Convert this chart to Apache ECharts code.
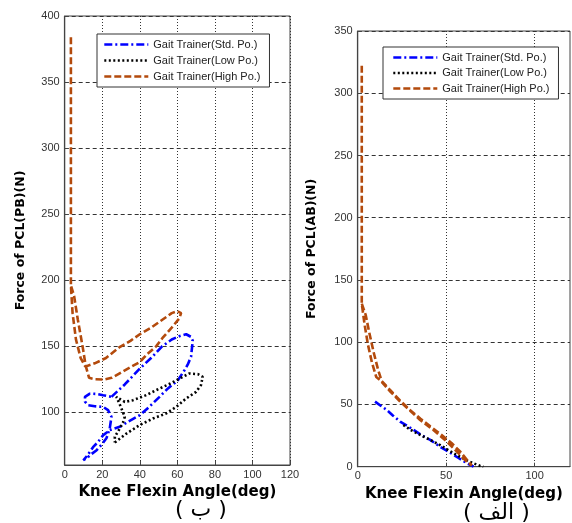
<!DOCTYPE html>
<html><head><meta charset="utf-8">
<script src="https://cdn.jsdelivr.net/npm/echarts@6/dist/echarts.min.js"></script>
<style>html,body{margin:0;padding:0;background:#fff}#c{width:572px;height:523px}</style>
</head><body><div id="c"></div>
<script>
// Series names
const seriesNames = ['Gait Trainer(Std. Po.)', 'Gait Trainer(Low Po.)', 'Gait Trainer(High Po.)'];
// Tick labels
const bXTicks = [0, 20, 40, 60, 80, 100, 120];
const bYTicks = [100, 150, 200, 250, 300, 350, 400];
const aXTicks = [0, 50, 100];
const aYTicks = [0, 50, 100, 150, 200, 250, 300, 350];
// Panel (ب) data: [knee angle, force]
const bStd = [[24.9,111.6],[32,121],[40,133],[46,141],[52,150],[57,155],[61,157.5],[64.7,159],[67.3,157],[68.2,154],[67.3,142],[65.5,136],[63.8,131.8],[60.3,124.2],[55,118],[50.5,111.6],[45,104],[40,97.7],[34,93],[29.3,88.9],[24,86.4],[20.5,82.6],[17.5,77],[15.2,73.7],[12,67],[9.9,63.6],[11.6,65],[14,68],[17,71.2],[20,76],[22.3,80.5],[24,87.7],[24.9,96.5],[23.1,101.5],[20.5,104],[16,104.5],[12.5,105.3],[10.8,108],[10.8,111.6],[13.4,114],[17,113.8],[20.5,112.8],[24.9,111.6]];
const bLow = [[26.7,77],[32.9,83.8],[39.9,90.2],[47,95.2],[54,99],[59.4,104],[64.7,110.4],[70,115.4],[72.6,120.5],[73.5,126.8],[70.9,128.8],[66.4,129.3],[61.2,125.5],[56,121.5],[50.5,117.9],[43.4,112.9],[36.4,109.1],[32,107.8],[27.5,111.6],[29,107],[30.2,102.8],[32,96.5],[31,92],[29.3,87.6],[26.7,81.3],[26.7,77]];
const bHigh = [[3.3,384],[3.3,300],[3.3,230],[3.3,196],[4.2,175],[6,155],[8.5,141],[11,134.5],[16,137],[22,141],[29,149],[35,154],[40,159],[46,164],[52,170],[57,175],[60,176.5],[62,175],[61,171],[57,164],[52,156],[48.8,150],[44,144],[40,138],[35,134],[30,130],[25,126],[21,124.7],[16,125],[13,126],[11.2,135],[9.5,150],[7,170],[5,188],[3.3,196]];
// Panel (الف) data
const aStd = [[9.8,52.3],[13,49],[16.4,45.6],[20,41],[24,36.2],[30,31],[36,25.5],[41,21.5],[46.6,16],[52,11.5],[57,7],[61.7,2.8],[65.5,0]];
const aLow = [[25.8,33.5],[30,29.5],[35.3,25.5],[41,21.5],[46.6,17.4],[51,13.5],[56,9.4],[61,5.5],[65.5,2.7],[69,0.8],[71,0]];
const aHigh = [[2.3,322],[2.3,131],[3.8,115],[5.8,98],[8,84],[10.5,72],[12.6,69.7],[18,61],[24,52.3],[30,44.5],[35.3,37.5],[42.8,29.5],[50.4,20.1],[54,15],[57.9,9.4],[62.6,2.7],[64.5,1],[62,5],[58,12],[53,19],[47,26],[41,32.5],[35.5,38.5],[30,45],[24,53],[18,62],[13.5,69],[11.5,78],[9,92],[6.5,108],[4.5,122],[2.3,131]];

const styles = [
  {color:'#0000ff', type:[8,3,2,3]},
  {color:'#000000', type:[2,2.5]},
  {color:'#b34a0c', type:[7,3]}
];
function mk(name, data, idx, si){
  return {type:'line', name:name, data:data, xAxisIndex:idx, yAxisIndex:idx,
    showSymbol:false, symbol:'none', smooth:false, animation:false, clip:true,
    lineStyle:{color:styles[si].color, type:styles[si].type, width:2.6},
    itemStyle:{color:styles[si].color}};
}
const axisLbl = {fontFamily:'Liberation Sans', fontSize:11, color:'#333'};
const nameStyle = {fontFamily:'DejaVu Sans', fontWeight:'bold', fontSize:15, color:'#000'};
const yNameStyle = {fontFamily:'DejaVu Sans', fontWeight:'bold', fontSize:12.5, color:'#000'};
function xAx(idx, max, ticks){
  return {type:'value', gridIndex:idx, min:0, max:max,
    name:'Knee Flexin Angle(deg)', nameLocation:'middle', nameGap:16, nameTextStyle:nameStyle,
    axisLine:{show:true, lineStyle:{color:'#444', width:1.2}},
    axisTick:{show:true, inside:true, length:4, customValues:ticks, lineStyle:{color:'#444'}},
    axisLabel:Object.assign({customValues:ticks, margin:4}, axisLbl),
    splitLine:{show:true, lineStyle:{color:'#333', type:[1,2], width:1}}};
}
function yAx(idx, min, max, ticks, name, gap){
  return {type:'value', gridIndex:idx, min:min, max:max,
    name:name, nameLocation:'middle', nameGap:gap, nameRotate:90, nameTextStyle:yNameStyle,
    axisLine:{show:true, lineStyle:{color:'#444', width:1.2}},
    axisTick:{show:true, inside:true, length:4, customValues:ticks, lineStyle:{color:'#444'}},
    axisLabel:Object.assign({customValues:ticks, margin:5}, axisLbl),
    splitLine:{show:true, lineStyle:{color:'#333', type:[4,3], width:1}}};
}
const legendCommon = {orient:'vertical', itemWidth:44, itemHeight:10, itemGap:5,
  backgroundColor:'#fff', borderColor:'#333', borderWidth:1, borderRadius:0,
  itemStyle:{opacity:0}, lineStyle:{width:2.6},
  textStyle:{fontFamily:'Liberation Sans', fontSize:11, color:'#222'},
  data:seriesNames, selectedMode:false};
const chart = echarts.init(document.getElementById('c'));
chart.setOption({
  animation:false,
  backgroundColor:'#fff',
  grid:[
    {left:64.7, top:16, width:225.3, height:449, show:true, borderColor:'#444', borderWidth:1, backgroundColor:'transparent'},
    {left:357.7, top:31, width:212.3, height:435.7, show:true, borderColor:'#444', borderWidth:1, backgroundColor:'transparent'}
  ],
  xAxis:[xAx(0,120,bXTicks), xAx(1,120,aXTicks)],
  yAxis:[yAx(0,60,400,bYTicks,'Force of PCL(PB)(N)',37), yAx(1,0,350,aYTicks,'Force of PCL(AB)(N)',39)],
  legend:[
    Object.assign({}, legendCommon, {left:97, top:34, padding:[5,9,5,6]}),
    Object.assign({}, legendCommon, {left:383, top:47, itemGap:4.5, padding:[5,9,5,9]})
  ],
  series:[
    mk(seriesNames[0], bStd, 0, 0), mk(seriesNames[1], bLow, 0, 1), mk(seriesNames[2], bHigh, 0, 2),
    mk(seriesNames[0], aStd, 1, 0), mk(seriesNames[1], aLow, 1, 1), mk(seriesNames[2], aHigh, 1, 2)
  ],
  graphic:[
    {type:'text', left:175, top:499, style:{text:'( ب )', font:'22px "DejaVu Sans"', fill:'#000', textAlign:'center'}},
    {type:'text', left:463, top:502, style:{text:'( الف )', font:'22px "DejaVu Sans"', fill:'#000', textAlign:'center'}}
  ]
});
</script></body></html>
